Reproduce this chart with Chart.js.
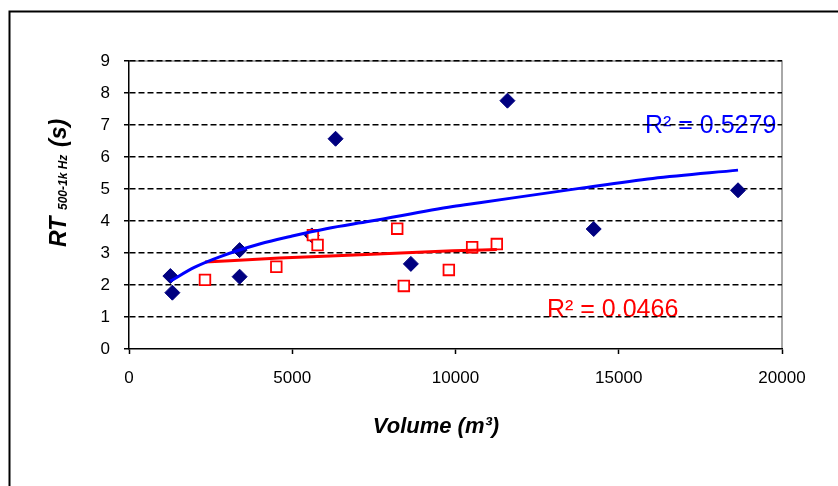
<!DOCTYPE html>
<html><head><meta charset="utf-8">
<script src="https://cdn.jsdelivr.net/npm/chart.js@4"></script>
<style>html,body{margin:0;padding:0;background:#fff;overflow:hidden}canvas{display:block}</style>
</head><body>
<canvas id="c" width="838" height="486"></canvas>
<script>
// Series 1 (blue diamonds)
const blueX = [1267, 1328, 3388, 3388, 5600, 6327, 8633, 11591, 14233, 18653];
const blueY = [2.28, 1.76, 3.09, 2.26, 3.55, 6.57, 2.66, 7.76, 3.75, 4.96];
// Series 2 (red hollow squares)
const redX = [2327, 4512, 5633, 5776, 8215, 8418, 9796, 10510, 11265];
const redY = [2.16, 2.57, 3.56, 3.25, 3.76, 1.97, 2.47, 3.18, 3.28];
// Trend lines
const blueTrendX = [1267, 2000, 2777, 4000, 5000, 6041, 7368, 9918, 10735, 13797, 16042, 18653];
const blueTrendY = [2.12, 2.55, 2.88, 3.28, 3.53, 3.76, 3.99, 4.45, 4.57, 5.02, 5.33, 5.59];
const redTrendX = [2327, 4613, 7266, 9918, 11265];
const redTrendY = [2.72, 2.84, 2.95, 3.07, 3.11];
const xTicks = [0, 5000, 10000, 15000, 20000];
const yTicks = [0, 1, 2, 3, 4, 5, 6, 7, 8, 9];
const r2Blue = 'R² = 0.5279';
const r2Red = 'R² = 0.0466';
const xTitle = 'Volume (m³)';
const yTitleMain = 'RT';
const yTitleSub = '500-1k Hz';
const yTitleUnit = '(s)';

const pts = (xs, ys) => xs.map((x, i) => ({x, y: ys[i]}));
const FONT = "'Liberation Sans', Arial, sans-serif";

const decor = {
  id: 'decor',
  beforeDraw(chart) {
    const ctx = chart.ctx, a = chart.chartArea;
    ctx.save();
    ctx.fillStyle = '#fff';
    ctx.fillRect(0, 0, chart.width, chart.height);
    ctx.strokeStyle = '#8c8c8c';
    ctx.lineWidth = 1.5;
    ctx.beginPath();
    ctx.moveTo(a.left, a.top); ctx.lineTo(a.right, a.top); ctx.lineTo(a.right, a.bottom);
    ctx.stroke();
    ctx.font = '25px ' + FONT;
    ctx.textBaseline = 'alphabetic';
    ctx.textAlign = 'left';
    ctx.fillStyle = '#0000ff';
    ctx.fillText(r2Blue, 645, 133);
    ctx.fillStyle = '#ff0000';
    ctx.fillText(r2Red, 547, 317);
    ctx.restore();
  },
  afterDraw(chart) {
    const ctx = chart.ctx;
    ctx.save();
    // outer frame (left and top)
    ctx.strokeStyle = '#000';
    ctx.lineWidth = 2;
    ctx.beginPath();
    ctx.moveTo(9.5, 486); ctx.lineTo(9.5, 11.5); ctx.lineTo(838, 11.5);
    ctx.stroke();
    // x title
    ctx.fillStyle = '#000';
    ctx.font = 'italic bold 22px ' + FONT;
    ctx.textAlign = 'center';
    ctx.textBaseline = 'alphabetic';
    ctx.fillText(xTitle, 436, 433);
    // y title (rotated)
    ctx.translate(66, 247);
    ctx.rotate(-Math.PI / 2);
    ctx.textAlign = 'left';
    ctx.font = 'italic bold 23px ' + FONT;
    ctx.fillText(yTitleMain, 0, 0);
    ctx.font = 'italic bold 12px ' + FONT;
    ctx.fillText(yTitleSub, 37, 1);
    ctx.font = 'italic bold 23px ' + FONT;
    ctx.fillText(yTitleUnit, 100, 0);
    ctx.restore();
  }
};

new Chart(document.getElementById('c'), {
  type: 'scatter',
  data: {
    datasets: [
      { label: 'trendBlue', type: 'line', data: pts(blueTrendX, blueTrendY), borderColor: '#0000ff', borderWidth: 3, pointRadius: 0, tension: 0.4, cubicInterpolationMode: 'monotone', fill: false, order: 1 },
      { label: 'trendRed', type: 'line', data: pts(redTrendX, redTrendY), borderColor: '#ff0000', borderWidth: 3, pointRadius: 0, tension: 0.4, cubicInterpolationMode: 'monotone', fill: false, order: 2 },
      { label: 'red', data: pts(redX, redY), pointStyle: 'rect', pointRadius: 7.5, pointBackgroundColor: '#fff', pointBorderColor: '#ff0000', pointBorderWidth: 1.8, showLine: false, order: 3 },
      { label: 'blue', data: pts(blueX, blueY), pointStyle: 'rectRot', pointRadius: 7.5, pointBackgroundColor: '#000080', pointBorderColor: '#000080', pointBorderWidth: 1, showLine: false, order: 4 }
    ]
  },
  options: {
    responsive: false,
    animation: false,
    devicePixelRatio: 1,
    layout: { padding: { left: 0, top: 61, right: 56, bottom: 0 } },
    plugins: { legend: { display: false }, tooltip: { enabled: false } },
    scales: {
      x: {
        type: 'linear', min: 0, max: 20000,
        afterBuildTicks: s => { s.ticks = xTicks.map(v => ({value: v})); },
        afterFit: s => { s.height = 137; },
        ticks: { color: '#000', font: { family: FONT, size: 17 }, padding: 14, maxRotation: 0, callback: v => String(v) },
        grid: { drawOnChartArea: false, drawTicks: true, tickLength: 5, tickColor: '#000', tickWidth: 1.5, tickBorderDash: [] },
        border: { display: true, color: '#000', width: 1.5 }
      },
      y: {
        type: 'linear', min: 0, max: 9,
        afterBuildTicks: s => { s.ticks = yTicks.map(v => ({value: v})); },
        afterFit: s => { s.width = 129; },
        ticks: { color: '#000', font: { family: FONT, size: 17 }, padding: 14, callback: v => String(v) },
        grid: { color: ctx => (ctx.tick && ctx.tick.value === 0) ? 'rgba(0,0,0,0)' : '#000', lineWidth: 1.5, drawTicks: true, tickLength: 5, tickColor: '#000', tickWidth: 1.5, tickBorderDash: [] },
        border: { display: true, color: '#000', width: 1.5, dash: [6, 3] }
      }
    }
  },
  plugins: [decor]
});
</script>
</body></html>
